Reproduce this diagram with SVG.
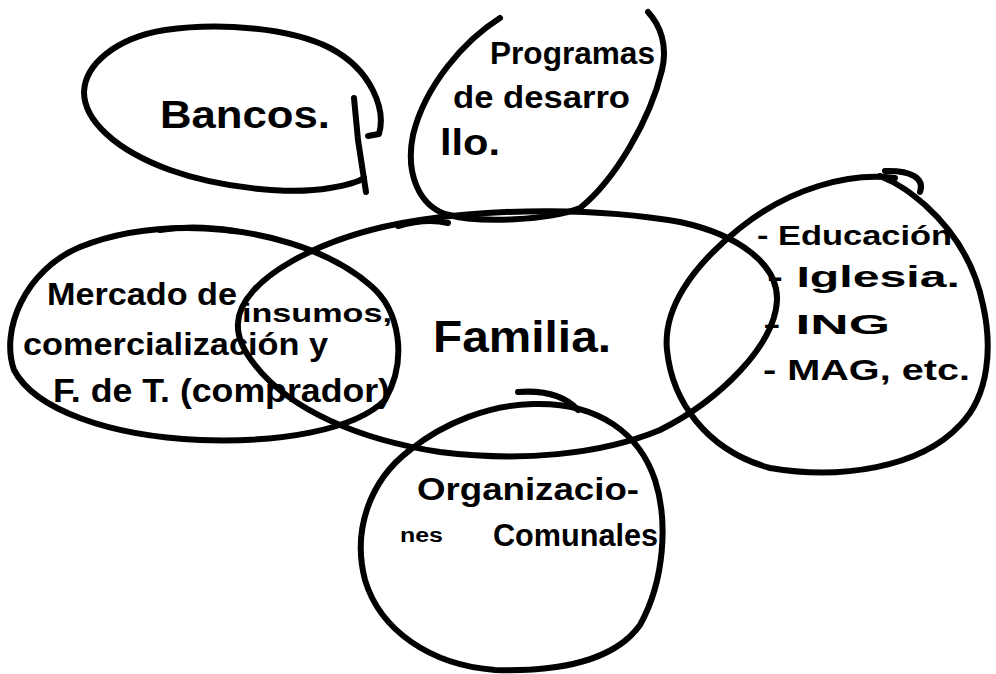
<svg xmlns="http://www.w3.org/2000/svg" width="996" height="674" viewBox="0 0 996 674">
<style>
.ink{fill:none;stroke:#000;stroke-width:6;stroke-linecap:round;stroke-linejoin:round}
.t{font-family:"Liberation Sans","DejaVu Sans",sans-serif;font-weight:bold;fill:#000}
</style>
<rect width="996" height="674" fill="#fff"/>
<g id="bancos">
<path class="ink" d="M368,136 L379,134 C386,110 372,70 330,48 C290,28 220,22 165,30 C115,38 85,65 84,92 C84,120 115,150 170,170 C220,188 290,195 330,188 C348,185 358,182 364,178"/>
<path class="ink" d="M354,98 L358,140 L366,192"/>
<text class="t" x="160" y="128" font-size="38" textLength="170" lengthAdjust="spacingAndGlyphs">Bancos.</text>
</g>
<g id="programas">
<path class="ink" d="M500,18 C465,40 425,85 413,135 C405,175 420,205 445,214 C480,224 550,220 580,208 C615,180 650,120 662,70 C668,45 660,25 648,12"/>
<text class="t" x="490" y="64" font-size="32" textLength="165" lengthAdjust="spacingAndGlyphs">Programas</text>
<text class="t" x="453" y="108" font-size="32" textLength="177" lengthAdjust="spacingAndGlyphs">de desarro</text>
<text class="t" x="440" y="155" font-size="36" textLength="60" lengthAdjust="spacingAndGlyphs">llo.</text>
</g>
<g id="mercado">
<path class="ink" d="M187,228 C260,228 330,250 370,285 C400,310 408,360 385,400 C355,430 280,443 200,440 C110,436 35,410 14,370 C0,330 25,270 80,247 C115,233 150,228 187,228 Z"/>
<path class="ink" stroke-width="9" d="M160,230 C185,226 210,227 235,231"/>
<text class="t" x="47" y="305" font-size="32" textLength="190" lengthAdjust="spacingAndGlyphs">Mercado de</text>
<text class="t" x="242" y="322" font-size="26" textLength="150" lengthAdjust="spacingAndGlyphs">insumos,</text>
<text class="t" x="23" y="355" font-size="32" textLength="305" lengthAdjust="spacingAndGlyphs">comercialización y</text>
<text class="t" x="53" y="402" font-size="34" textLength="337" lengthAdjust="spacingAndGlyphs">F. de T. (comprador)</text>
</g>
<g id="familia">
<path class="ink" d="M238,323 C240,280 320,235 420,220 C500,208 600,208 680,222 C740,235 778,265 777,300 C775,345 720,400 660,430 C600,455 520,462 440,452 C360,440 290,410 255,365 C243,350 237,335 238,323 Z"/>
<path class="ink" stroke-width="5" d="M398,226 C415,221 432,219 448,223"/>
<text class="t" x="433" y="352" font-size="44" textLength="178" lengthAdjust="spacingAndGlyphs">Familia.</text>
</g>
<g id="instituciones">
<path class="ink" d="M920,192 C925,178 910,170 885,171"/>
<path class="ink" d="M895,178 C850,172 790,188 740,228 C690,268 663,310 667,350 C672,400 705,450 770,468 C840,480 920,468 960,425 C990,395 992,345 983,305 C975,265 955,232 925,205 C912,194 900,184 880,176"/>
<text class="t" x="757" y="245" font-size="28" textLength="195" lengthAdjust="spacingAndGlyphs">- Educación</text>
<text class="t" x="767" y="287" font-size="30" textLength="193" lengthAdjust="spacingAndGlyphs">- Iglesia.</text>
<text class="t" x="763" y="334" font-size="28" textLength="127" lengthAdjust="spacingAndGlyphs">- ING</text>
<text class="t" x="763" y="380" font-size="30" textLength="207" lengthAdjust="spacingAndGlyphs">- MAG, etc.</text>
</g>
<g id="organizaciones">
<path class="ink" d="M533,404 C600,402 640,435 655,480 C668,520 665,580 640,625 C615,660 560,672 495,670 C430,665 380,630 365,580 C352,530 370,480 410,450 C445,422 490,405 533,404 Z"/>
<path class="ink" d="M518,392 C545,390 565,396 578,410"/>
<text class="t" x="417" y="500" font-size="32" textLength="222" lengthAdjust="spacingAndGlyphs">Organizacio-</text>
<text class="t" x="400" y="542" font-size="20" textLength="43" lengthAdjust="spacingAndGlyphs">nes</text>
<text class="t" x="493" y="546" font-size="32" textLength="165" lengthAdjust="spacingAndGlyphs">Comunales</text>
</g>
<g id="connectors"/>
</svg>
